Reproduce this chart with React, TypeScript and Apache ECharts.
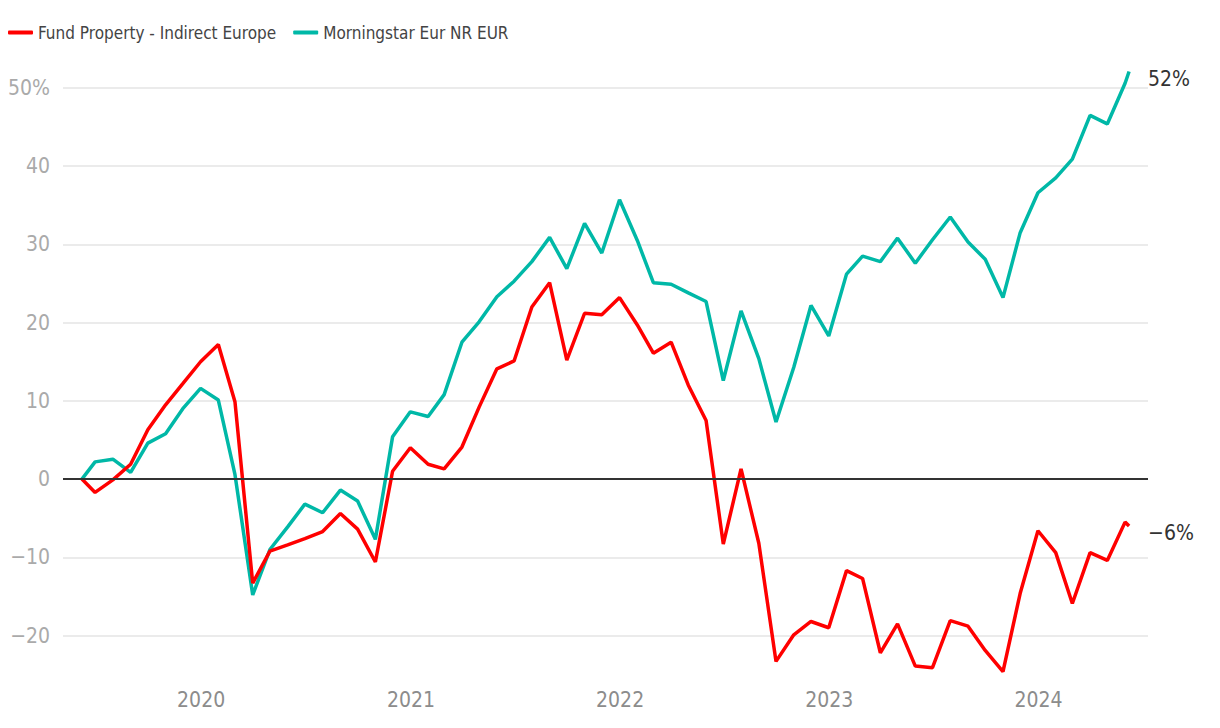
import React, { useEffect, useRef } from "react";
import * as echarts from "echarts";

const seriesNames = ["Fund Property - Indirect Europe", "Morningstar Eur NR EUR"];
const seriesColors = ["#ff0000", "#00b8a7"];
const startDate = "2019-06-07";
const endDate = "2024-06-07";
const firstMonthEnd = { year: 2019, month: 5 }; // June 2019, 60 month-end points follow
const monthEndCount = 60;
const yearLabels = [2020, 2021, 2022, 2023, 2024];

const fundValues = [
  0, -1.7, -0.1, 1.9, 6.3, 9.5, 12.2, 15.0, 17.2, 9.9,
  -13.3, -9.2, -8.4, -7.6, -6.7, -4.4, -6.4, -10.6, 1.0, 4.0,
  1.9, 1.3, 4.1, 9.2, 14.1, 15.1, 22.0, 25.1, 15.2, 21.2,
  21.0, 23.2, 19.7, 16.1, 17.5, 12.0, 7.5, -8.3, 1.3, -8.2,
  -23.3, -19.9, -18.2, -19.0, -11.7, -12.7, -22.2, -18.5, -23.9, -24.1,
  -18.1, -18.8, -21.9, -24.6, -14.6, -6.6, -9.4, -15.9, -9.4, -10.4,
  -5.5, -6.0,
];

const indexValues = [
  0, 2.2, 2.55, 0.85, 4.6, 5.8, 9.0, 11.6, 10.1, 0.6,
  -14.8, -9.0, -6.1, -3.2, -4.3, -1.4, -2.8, -7.7, 5.4, 8.6,
  8.0, 10.8, 17.5, 20.1, 23.3, 25.3, 27.8, 30.9, 26.9, 32.7,
  28.9, 35.7, 30.5, 25.1, 24.9, 23.8, 22.7, 12.6, 21.5, 15.4,
  7.3, 14.3, 22.2, 18.3, 26.2, 28.5, 27.8, 30.8, 27.6, 30.6,
  33.5, 30.3, 28.1, 23.2, 31.5, 36.6, 38.5, 40.9, 46.5, 45.4,
  50.6, 52.1,
];

const FONT = "'DejaVu Sans Condensed', 'Liberation Sans Narrow', 'Roboto', sans-serif";
const DAY = 86400000;

function parseDate(s: string) {
  const [y, m, d] = s.split("-").map(Number);
  return Date.UTC(y, m - 1, d);
}

const origin = parseDate(startDate);
const toDays = (t: number) => (t - origin) / DAY;

function buildDays() {
  const out = [toDays(parseDate(startDate))];
  for (let k = 0; k < monthEndCount; k++) {
    out.push(toDays(Date.UTC(firstMonthEnd.year, firstMonthEnd.month + k + 1, 0)));
  }
  out.push(toDays(parseDate(endDate)));
  return out;
}

function fmtSigned(v: number) {
  return v < 0 ? "\u2212" + Math.abs(v) : String(v);
}

export default function App() {
  const ref = useRef<HTMLDivElement>(null);
  useEffect(() => {
    if (!ref.current) return;
    const chart = echarts.init(ref.current, undefined, { renderer: "svg" });
    const days = buildDays();
    const fundData = days.map((d, i) => [d, fundValues[i]]);
    const indexData = days.map((d, i) => [d, indexValues[i]]);
    const yearTicks = yearLabels.map((y) => toDays(Date.UTC(y, 0, 1)));
    const endLabel = {
      show: true,
      distance: 19,
      offset: [0, 7],
      fontFamily: FONT,
      fontSize: 21,
      color: "#333",
      formatter: (p: any) => fmtSigned(Math.round(p.value[1])) + "%",
    };
    chart.setOption({
      animation: false,
      backgroundColor: "#ffffff",
      legend: {
        left: 3,
        top: 19,
        icon: "roundRect",
        itemWidth: 25,
        itemHeight: 4,
        itemGap: 17,
        data: seriesNames,
        textStyle: { fontFamily: FONT, fontSize: 17, color: "#444" },
      },
      grid: { left: 63, right: 72, top: 41, bottom: 45.5, containLabel: false },
      xAxis: {
        type: "value",
        min: days[0] - 33,
        max: days[days.length - 1] + 33,
        axisLine: { show: false },
        axisTick: { show: false },
        splitLine: { show: false },
        axisLabel: {
          customValues: yearTicks,
          formatter: (v: number) => {
            const i = yearTicks.findIndex((t) => Math.abs(t - v) < 1);
            return i >= 0 ? String(yearLabels[i]) : "";
          },
          fontFamily: FONT,
          fontSize: 21,
          color: "#8c8c8c",
          margin: 7,
        },
      },
      yAxis: {
        type: "value",
        min: -26,
        max: 56,
        splitNumber: 8,
        axisLine: { show: false },
        axisTick: { show: false },
        axisLabel: {
          showMinLabel: false,
          showMaxLabel: false,
          fontFamily: FONT,
          fontSize: 21,
          color: "#aaaaaa",
          margin: 13,
          formatter: (v: number) => (v === 50 ? "50%" : fmtSigned(v)),
        },
        splitLine: {
          show: true,
          showMinLine: false,
          showMaxLine: false,
          lineStyle: { color: "#e4e4e4", width: 1.5 },
        },
      },
      series: [
        {
          name: seriesNames[1],
          type: "line",
          data: indexData,
          showSymbol: false,
          color: seriesColors[1],
          lineStyle: { width: 3.5, color: seriesColors[1] },
          endLabel,
          z: 2,
          markLine: {
            silent: true,
            symbol: ["none", "none"],
            label: { show: false },
            lineStyle: { color: "#333", type: "solid", width: 2 },
            data: [{ yAxis: 0 }],
          },
        },
        {
          name: seriesNames[0],
          type: "line",
          data: fundData,
          showSymbol: false,
          color: seriesColors[0],
          lineStyle: { width: 3.5, color: seriesColors[0] },
          endLabel,
          z: 3,
        },
      ],
    });
    return () => chart.dispose();
  }, []);
  return <div ref={ref} style={{ position: "fixed", left: 0, top: 0, width: 1220, height: 728 }} />;
}
